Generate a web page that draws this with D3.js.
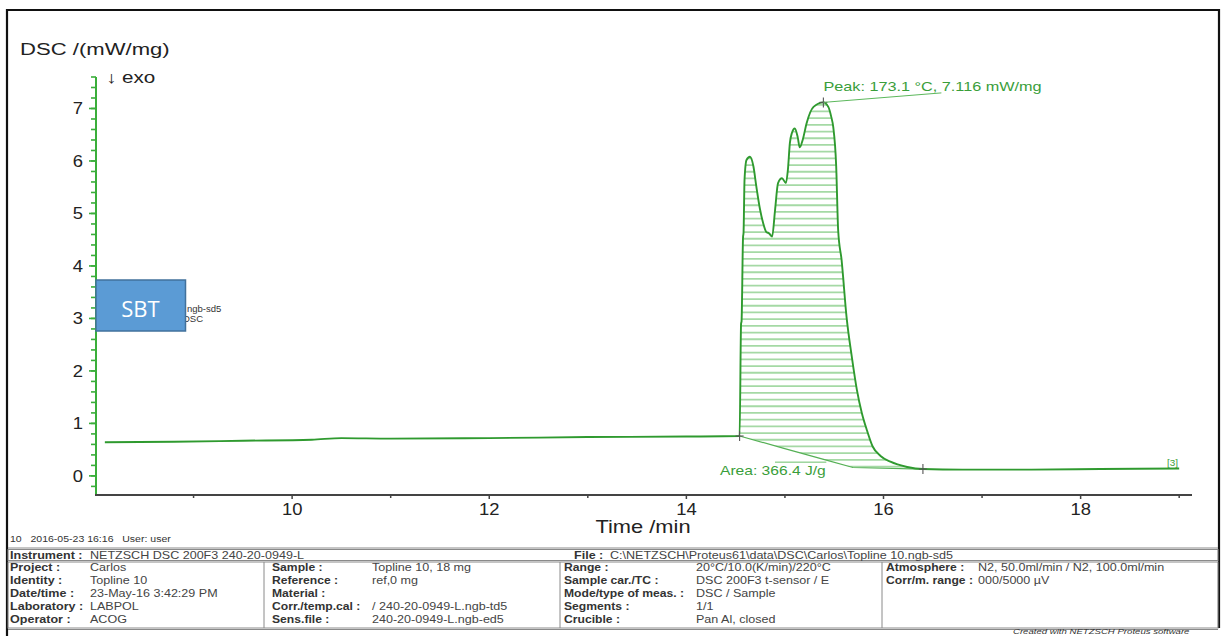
<!DOCTYPE html>
<html>
<head>
<meta charset="utf-8">
<script src="https://cdn.jsdelivr.net/npm/d3@7/dist/d3.min.js"></script>
<style>
  html, body { margin: 0; padding: 0; background: #fff; }
  svg { display: block; font-family: "Liberation Sans", Arial, sans-serif; }
</style>
</head>
<body>
<svg id="chart" width="1223" height="636"></svg>
<script>
// DSC signal (mW/mg) against time (min)
const timeMin = [8.10, 8.80, 9.50, 10.20, 10.50, 11.00, 12.00, 13.00, 14.00, 14.54,
  14.555, 14.56, 14.575, 14.58, 14.59, 14.61, 14.645, 14.68, 14.71, 14.745, 14.78, 14.81, 14.84, 14.87,
  14.90, 14.93, 14.97, 15.01, 15.03, 15.05, 15.07, 15.10, 15.13, 15.15, 15.18, 15.22, 15.29, 15.39,
  15.44, 15.47, 15.49, 15.52, 15.54, 15.575, 15.625, 15.68, 15.73, 15.78, 15.83, 15.89, 15.97,
  16.07, 16.24, 16.40, 16.80, 17.50, 18.20, 19.00];
const dscValue = [0.64, 0.65, 0.67, 0.69, 0.72, 0.71, 0.72, 0.74, 0.75, 0.76,
  2.90, 2.95, 4.55, 4.63, 5.64, 6.02, 6.08, 5.90, 5.51, 5.10, 4.81, 4.65, 4.62, 4.56,
  5.07, 5.58, 5.67, 5.58, 5.83, 6.34, 6.53, 6.62, 6.45, 6.26, 6.40, 6.72, 7.03, 7.116,
  7.03, 6.84, 6.65, 5.90, 4.68, 4.11, 3.03, 2.25, 1.64, 1.20, 0.88, 0.56, 0.38,
  0.27, 0.17, 0.13, 0.12, 0.12, 0.13, 0.14];

// integration baseline under the melting peak
const baseTime = [14.54, 14.98, 15.42, 15.69, 16.40];
const baseValue = [0.76, 0.53, 0.30, 0.16, 0.13];

const peakTime = 15.39, peakValue = 7.116;
const peakLabel = "Peak: 173.1 °C, 7.116 mW/mg";
const areaLabel = "Area: 366.4 J/g";

const xMajorTicks = [10, 12, 14, 16, 18];
const xMinorTicks = [9, 11, 13, 15, 17, 19];
const yMajorTicks = [0, 1, 2, 3, 4, 5, 6, 7];

// measurement header / footer table
const infoLine = "10   2016-05-23 16:16   User: user";
const instrument = ["Instrument :", "NETZSCH DSC 200F3 240-20-0949-L"];
const fileInfo = ["File :", "C:\\NETZSCH\\Proteus61\\data\\DSC\\Carlos\\Topline 10.ngb-sd5"];
const col1 = [["Project :", "Carlos"], ["Identity :", "Topline 10"], ["Date/time :", "23-May-16 3:42:29 PM"], ["Laboratory :", "LABPOL"], ["Operator :", "ACOG"]];
const col2 = [["Sample :", "Topline 10, 18 mg"], ["Reference :", "ref,0 mg"], ["Material :", ""], ["Corr./temp.cal :", "/ 240-20-0949-L.ngb-td5"], ["Sens.file :", "240-20-0949-L.ngb-ed5"]];
const col3 = [["Range :", "20°C/10.0(K/min)/220°C"], ["Sample car./TC :", "DSC 200F3 t-sensor / E"], ["Mode/type of meas. :", "DSC / Sample"], ["Segments :", "1/1"], ["Crucible :", "Pan Al, closed"]];
const col4 = [["Atmosphere :", "N2, 50.0ml/min / N2, 100.0ml/min"], ["Corr/m. range :", "000/5000 µV"]];

const svg = d3.select("#chart");
const green = "#2f9a2f";
const axisGreen = "#3aae3a";
const textDark = "#222";
const labelGreen = "#3a9e3a";

// report text is printed with a horizontally widened typeface
function label(parent, px, py, str, size, opts = {}) {
  const sx = opts.sx ?? 1.25;
  const t = parent.append("text")
    .attr("transform", `translate(${px},${py}) scale(${sx},1)`)
    .attr("font-size", size)
    .attr("fill", opts.fill ?? textDark)
    .attr("text-anchor", opts.anchor ?? "start")
    .text(str);
  if (opts.weight) t.attr("font-weight", opts.weight);
  if (opts.italic) t.attr("font-style", "italic");
  if (opts.pre) t.attr("xml:space", "preserve").style("white-space", "pre");
  return t;
}

// outer frame
svg.append("path")
  .attr("d", "M7,636 L7,10 L1219,10 L1219,628")
  .attr("fill", "none").attr("stroke", "#111").attr("stroke-width", 2.2);

const x = d3.scaleLinear().domain([8, 19.13]).range([95, 1192]);
const y = d3.scaleLinear().domain([-0.364, 7.6]).range([495, 77]);

// axis titles
label(svg, 20, 55, "DSC /(mW/mg)", 17, { sx: 1.3 });
label(svg, 106, 83, "↓ exo", 16.5);
label(svg, 643, 533, "Time /min", 17.5, { anchor: "middle" });

// y axis (green) with minor ticks every 0.2
const gy = svg.append("g");
gy.append("line").attr("x1", x(8) + 1).attr("x2", x(8) + 1).attr("y1", y.range()[1]).attr("y2", y.range()[0])
  .attr("stroke", axisGreen).attr("stroke-width", 2);
const yMinor = d3.range(-0.2, 7.61, 0.2).map(v => Math.round(v * 10) / 10);
gy.selectAll("line.minor").data(yMinor).join("line")
  .attr("x1", x(8) - 4).attr("x2", x(8) + 1)
  .attr("y1", d => y(d)).attr("y2", d => y(d))
  .attr("stroke", axisGreen).attr("stroke-width", 1.6);
gy.selectAll("line.major").data(yMajorTicks).join("line")
  .attr("x1", x(8) - 6).attr("x2", x(8) + 1)
  .attr("y1", d => y(d)).attr("y2", d => y(d))
  .attr("stroke", axisGreen).attr("stroke-width", 1.6);
yMajorTicks.forEach(d => label(gy, 83, y(d) + 6, d, 16, { anchor: "end", sx: 1.15 }));

// x axis
const gx = svg.append("g");
gx.append("line").attr("x1", x.range()[0]).attr("x2", x.range()[1]).attr("y1", 495).attr("y2", 495)
  .attr("stroke", "#444").attr("stroke-width", 2);
gx.selectAll("line.minor").data(xMinorTicks).join("line")
  .attr("x1", d => x(d)).attr("x2", d => x(d)).attr("y1", 495).attr("y2", 498)
  .attr("stroke", "#444").attr("stroke-width", 1.5);
gx.selectAll("line.major").data(xMajorTicks).join("line")
  .attr("x1", d => x(d)).attr("x2", d => x(d)).attr("y1", 495).attr("y2", 499)
  .attr("stroke", "#444").attr("stroke-width", 1.5);
xMajorTicks.forEach(d => label(gx, x(d), 515, d, 16, { anchor: "middle", sx: 1.15 }));

// curve data
const pts = timeMin.map((t, i) => [x(t), y(dscValue[i])]);
const basePts = baseTime.map((t, i) => [x(t), y(baseValue[i])]);
const curveLine = d3.line().curve(d3.curveMonotoneX);

// hatched peak area: clip = curve between integration limits + baseline back
const i0 = timeMin.indexOf(baseTime[0]);
const i1 = timeMin.indexOf(baseTime[baseTime.length - 1]);
const peakSeg = pts.slice(i0, i1 + 1);
const backPath = d3.line()(basePts.slice().reverse()).replace(/^M/, "L");
const clipD = curveLine(peakSeg) + backPath + "Z";
svg.append("clipPath").attr("id", "areaClip").append("path").attr("d", clipD);

const hatch = svg.append("g").attr("clip-path", "url(#areaClip)");
const hatchY = d3.range(y(0.05), y(7.3), -6.7);
hatch.selectAll("line").data(hatchY).join("line")
  .attr("x1", x(14.4)).attr("x2", x(16.5))
  .attr("y1", d => d).attr("y2", d => d)
  .attr("stroke", "#8fd08f").attr("stroke-width", 1.8).attr("opacity", 0.8);

// integration baseline
svg.append("path").attr("d", d3.line()(basePts))
  .attr("fill", "none").attr("stroke", "#55b055").attr("stroke-width", 1.2);

// DSC curve
svg.append("path").attr("d", curveLine(pts))
  .attr("fill", "none").attr("stroke", green).attr("stroke-width", 1.9);

// cross markers at integration limits and the peak
const crosses = [[baseTime[0], baseValue[0]], [baseTime[baseTime.length - 1], baseValue[baseValue.length - 1]], [peakTime, peakValue]];
const cg = svg.append("g").attr("stroke", "#555").attr("stroke-width", 1.1);
crosses.forEach(([t, v]) => {
  cg.append("line").attr("x1", x(t) - 4).attr("x2", x(t) + 4).attr("y1", y(v)).attr("y2", y(v));
  cg.append("line").attr("x1", x(t)).attr("x2", x(t)).attr("y1", y(v) - 5).attr("y2", y(v) + 5);
});

// peak annotation
svg.append("line").attr("x1", x(peakTime)).attr("y1", y(peakValue))
  .attr("x2", x(peakTime) + 118).attr("y2", y(peakValue) - 9.5)
  .attr("stroke", "#5cb85c").attr("stroke-width", 1);
label(svg, x(peakTime), 91, peakLabel, 13, { fill: labelGreen });

// area annotation
svg.append("line").attr("x1", 775).attr("x2", x(baseTime[2])).attr("y1", y(baseValue[2]) + 2).attr("y2", y(baseValue[2]) + 2)
  .attr("stroke", "#6cc06c").attr("stroke-width", 1);
label(svg, 720, 475, areaLabel, 12.5, { fill: labelGreen });
label(svg, 1167, 466, "[3]", 9, { fill: labelGreen, sx: 1.1 });

// curve legend tag, partly covered by the label box
label(svg, 187, 312, "ngb-sd5", 9.5, { fill: "#333", sx: 1 });
label(svg, 183, 322, "DSC", 9.5, { fill: "#333", sx: 1 });

// sample label box
svg.append("rect").attr("x", 96).attr("y", 280).attr("width", 89.5).attr("height", 51)
  .attr("fill", "#5b9bd5").attr("stroke", "#41719c").attr("stroke-width", 1.5);
svg.append("text").attr("x", 140.5).attr("y", 317).attr("text-anchor", "middle")
  .attr("font-family", "'Open Sans', 'Noto Sans', sans-serif").attr("font-size", 22).attr("fill", "#fff").text("SBT");

// header line above table
label(svg, 10, 542, infoLine, 9, { fill: "#333", sx: 1.17, pre: true });

// table frame
const tg = svg.append("g").attr("fill", "none").attr("stroke", "#8a8a8a").attr("stroke-width", 1);
tg.append("rect").attr("x", 8).attr("y", 549.5).attr("width", 1210).attr("height", 11);
tg.append("rect").attr("x", 8).attr("y", 562).attr("width", 1210).attr("height", 66);
tg.append("line").attr("x1", 8).attr("x2", 1218).attr("y1", 548).attr("y2", 548);
tg.append("line").attr("x1", 8).attr("x2", 1218).attr("y1", 629.5).attr("y2", 629.5);
[264, 560, 882].forEach(cx => tg.append("line").attr("x1", cx).attr("x2", cx).attr("y1", 562).attr("y2", 628));

const fs = 10.3;
function cell(lx, vx, yy, pair, lsx = 1.22) {
  label(svg, lx, yy, pair[0], fs, { weight: "bold", fill: "#333", sx: lsx });
  label(svg, vx, yy, pair[1], fs, { fill: "#444", sx: 1.22 });
}
cell(10, 90, 558.5, instrument);
cell(574, 610, 558.5, fileInfo);
const rowY = [571, 584, 597, 610, 623];
col1.forEach((p, i) => cell(10, 90, rowY[i], p));
col2.forEach((p, i) => cell(272, 372, rowY[i], p, 1.18));
col3.forEach((p, i) => cell(564, 696, rowY[i], p, 1.18));
col4.forEach((p, i) => cell(886, 978, rowY[i], p, 1.18));

label(svg, 1013, 633.5, "Created with NETZSCH Proteus software", 8, { italic: true, fill: "#333", sx: 1.2 });
</script>
</body>
</html>
